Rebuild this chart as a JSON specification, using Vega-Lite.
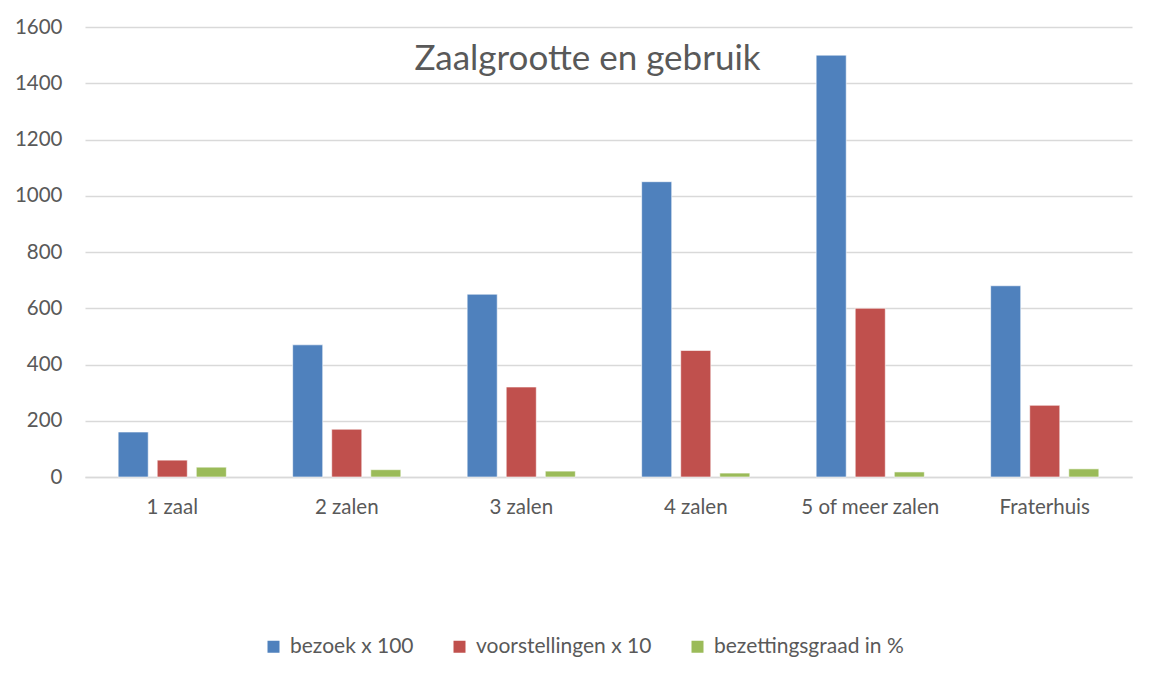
{
  "$schema": "https://vega.github.io/schema/vega-lite/v6.json",
  "width": 1047,
  "height": 450,
  "autosize": {"type": "none"},
  "padding": {"left": 85, "top": 27, "right": 17, "bottom": 199},
  "background": "white",
  "config": {
    "font": "Lato",
    "view": {"stroke": null},
    "axis": {"labelColor": "#595959", "labelFontSize": 20.5, "labelFont": "Lato", "gridColor": "#D9D9D9", "gridWidth": 1.5, "domainColor": "#D9D9D9", "domainWidth": 1.5, "ticks": false, "title": null}
  },
  "title": {
    "text": "Zaalgrootte en gebruik",
    "fontSize": 35,
    "fontWeight": "normal",
    "font": "Lato",
    "color": "#595959",
    "anchor": "middle",
    "dx": -21,
    "offset": -60
  },
  "data": {
    "values": [
      {"zaal": "1 zaal", "reeks": "bezoek x 100", "waarde": 160},
      {"zaal": "1 zaal", "reeks": "voorstellingen x 10", "waarde": 60},
      {"zaal": "1 zaal", "reeks": "bezettingsgraad in %", "waarde": 35},
      {"zaal": "2 zalen", "reeks": "bezoek x 100", "waarde": 470},
      {"zaal": "2 zalen", "reeks": "voorstellingen x 10", "waarde": 170},
      {"zaal": "2 zalen", "reeks": "bezettingsgraad in %", "waarde": 26},
      {"zaal": "3 zalen", "reeks": "bezoek x 100", "waarde": 650},
      {"zaal": "3 zalen", "reeks": "voorstellingen x 10", "waarde": 320},
      {"zaal": "3 zalen", "reeks": "bezettingsgraad in %", "waarde": 21},
      {"zaal": "4 zalen", "reeks": "bezoek x 100", "waarde": 1050},
      {"zaal": "4 zalen", "reeks": "voorstellingen x 10", "waarde": 450},
      {"zaal": "4 zalen", "reeks": "bezettingsgraad in %", "waarde": 14},
      {"zaal": "5 of meer zalen", "reeks": "bezoek x 100", "waarde": 1500},
      {"zaal": "5 of meer zalen", "reeks": "voorstellingen x 10", "waarde": 600},
      {"zaal": "5 of meer zalen", "reeks": "bezettingsgraad in %", "waarde": 18},
      {"zaal": "Fraterhuis", "reeks": "bezoek x 100", "waarde": 680},
      {"zaal": "Fraterhuis", "reeks": "voorstellingen x 10", "waarde": 255},
      {"zaal": "Fraterhuis", "reeks": "bezettingsgraad in %", "waarde": 29}
    ]
  },
  "mark": {"type": "bar", "stroke": "white", "strokeOpacity": 0.6, "strokeWidth": 1},
  "encoding": {
    "x": {
      "field": "zaal",
      "type": "nominal",
      "sort": null,
      "scale": {"paddingInner": 0.38, "paddingOuter": 0.19},
      "axis": {"labelAngle": 0, "labelPadding": 20, "grid": false}
    },
    "xOffset": {
      "field": "reeks",
      "type": "nominal",
      "sort": ["bezoek x 100", "voorstellingen x 10", "bezettingsgraad in %"],
      "scale": {"paddingInner": 0.23, "paddingOuter": 0}
    },
    "y": {
      "field": "waarde",
      "type": "quantitative",
      "scale": {"domain": [0, 1600], "nice": false},
      "axis": {"values": [0, 200, 400, 600, 800, 1000, 1200, 1400, 1600], "format": "d", "domain": false, "labelPadding": 23}
    },
    "color": {
      "field": "reeks",
      "type": "nominal",
      "sort": ["bezoek x 100", "voorstellingen x 10", "bezettingsgraad in %"],
      "scale": {"domain": ["bezoek x 100", "voorstellingen x 10", "bezettingsgraad in %"], "range": ["#4F81BD", "#C0504D", "#9BBB59"]},
      "legend": {
        "title": null,
        "orient": "none",
        "direction": "horizontal",
        "legendX": 178,
        "legendY": 609,
        "symbolType": "square",
        "symbolSize": 144,
        "symbolStrokeWidth": 0,
        "labelFontSize": 21,
        "labelColor": "#595959",
        "labelFont": "Lato",
        "labelLimit": 400,
        "columnPadding": 35,
        "labelOffset": 6
      }
    }
  }
}
